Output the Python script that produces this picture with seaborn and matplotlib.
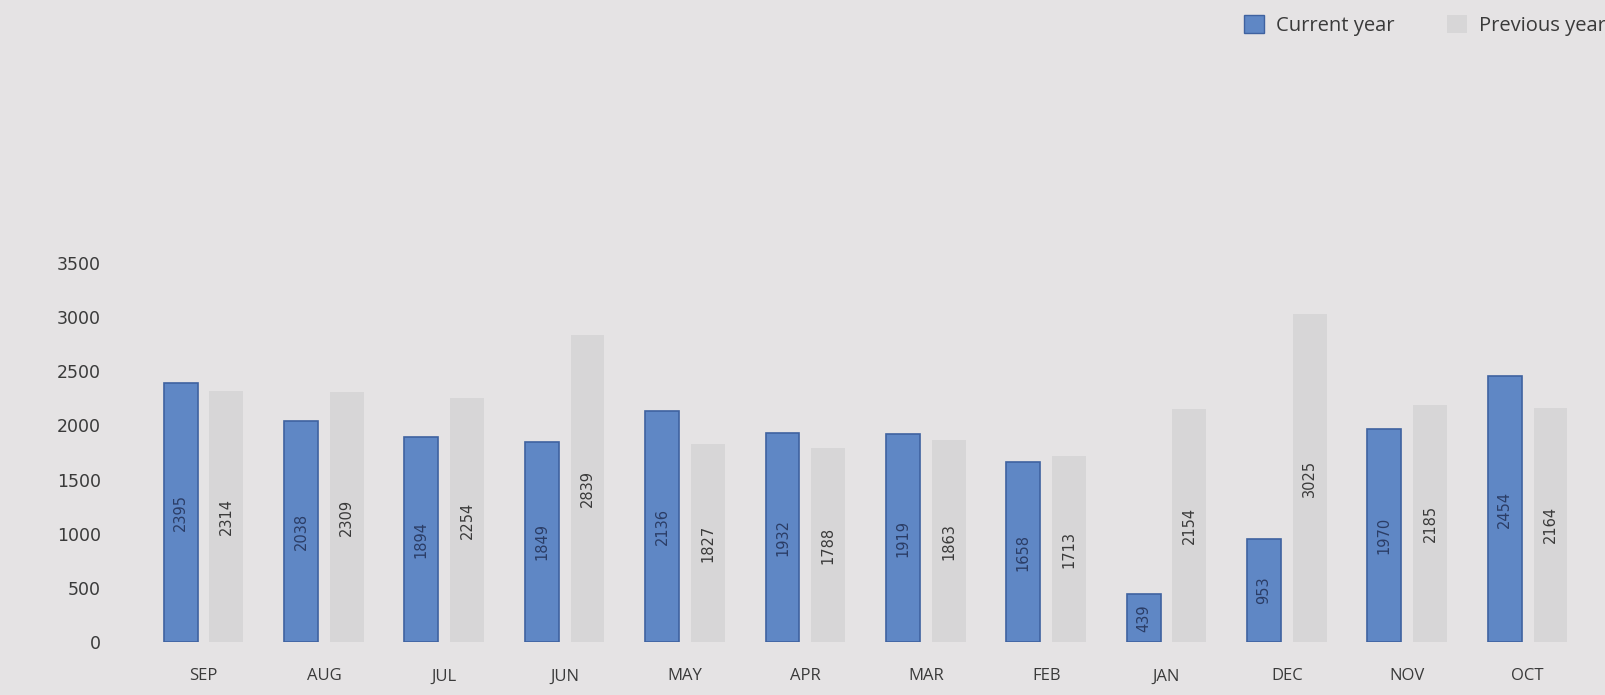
import pandas as pd
import matplotlib.pyplot as plt
import seaborn as sns

months = ['SEP', 'AUG', 'JUL', 'JUN', 'MAY', 'APR', 'MAR', 'FEB', 'JAN', 'DEC', 'NOV', 'OCT']
current_year = [2395, 2038, 1894, 1849, 2136, 1932, 1919, 1658, 439, 953, 1970, 2454]
previous_year = [2314, 2309, 2254, 2839, 1827, 1788, 1863, 1713, 2154, 3025, 2185, 2164]
y_ticks = [0, 500, 1000, 1500, 2000, 2500, 3000, 3500]

BG = '#e5e3e4'
BLUE = '#5f87c5'
GREY = '#d7d6d7'

sns.set_theme(style='white')
plt.rcParams['font.family'] = ['Open Sans', 'DejaVu Sans']

df = pd.DataFrame({
    'month': months * 2,
    'value': current_year + previous_year,
    'series': ['Current year'] * len(months) + ['Previous year'] * len(months),
})

fig = plt.figure(figsize=(16.05, 6.95), dpi=100, facecolor=BG)
ax = fig.add_axes([0.0818, 0.0763, 0.915, 0.5453])
ax.set_facecolor(BG)

sns.barplot(data=df, x='month', y='value', hue='series', order=months,
            palette={'Current year': BLUE, 'Previous year': GREY},
            width=0.76, gap=0.26, saturation=1, ax=ax, legend=False)

# darker outline on the blue bars only
for bar in ax.containers[0]:
    bar.set_edgecolor('#3f62a0')
    bar.set_linewidth(1.2)
for bar in ax.containers[1]:
    bar.set_linewidth(0)

ax.bar_label(ax.containers[0], labels=[str(v) for v in current_year],
             label_type='center', rotation=90, fontsize=10.5,
             color='#2b3d66', family='DejaVu Sans')
ax.bar_label(ax.containers[1], labels=[str(v) for v in previous_year],
             label_type='center', rotation=90, fontsize=10.5,
             color='#3a3a3a', family='DejaVu Sans')

ax.set_xlim(-0.6, 11.6)
ax.set_ylim(0, 3500)
ax.set_yticks(y_ticks)
ax.set_yticklabels([str(t) for t in y_ticks], fontsize=12.5, color='#3a3a3a',
                   family='DejaVu Sans')
ax.tick_params(axis='y', length=0, pad=22)
ax.tick_params(axis='x', length=0, pad=19, labelsize=12, labelcolor='#3a3a3a')
ax.set_xlabel('')
ax.set_ylabel('')
for s in ax.spines.values():
    s.set_visible(False)

handles = [plt.Rectangle((0, 0), 1, 1, facecolor=BLUE, edgecolor='#3f62a0'),
           plt.Rectangle((0, 0), 1, 1, facecolor=GREY, edgecolor='none')]
fig.legend(handles, ['Current year', 'Previous year'], loc='upper right',
           bbox_to_anchor=(1.012, 1.005), ncol=2, frameon=False,
           handlelength=1.0, handleheight=1.0, handletextpad=0.6,
           columnspacing=2.6, prop={'size': 14.5}, labelcolor='#3a3a3a')

fig.savefig('out.png', dpi=100, facecolor=BG)
